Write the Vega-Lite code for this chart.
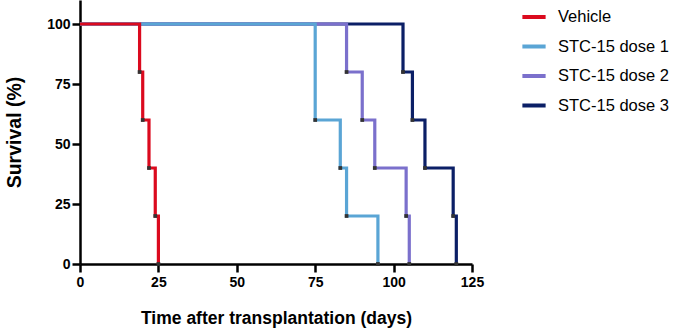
{
  "$schema": "https://vega.github.io/schema/vega-lite/v6.json",
  "width": 392,
  "height": 264,
  "autosize": {"type": "none"},
  "padding": {"left": 80, "top": 0, "right": 201, "bottom": 69},
  "background": "white",
  "config": {
    "view": {"stroke": null},
    "font": "Liberation Sans",
    "axis": {
      "domainColor": "black", "domainWidth": 2.5, "tickColor": "black", "tickWidth": 2.5, "tickSize": 8,
      "labelFont": "Liberation Sans", "labelFontWeight": "bold", "labelFontSize": 14, "labelColor": "black",
      "titleFont": "Liberation Sans", "titleFontWeight": "bold", "titleColor": "black",
      "grid": false, "labelFlush": false
    }
  },
  "data": {"values": [
    {"group": "STC-15 dose 3", "day": 0, "survival": 100},
    {"group": "STC-15 dose 3", "day": 103, "survival": 80},
    {"group": "STC-15 dose 3", "day": 106, "survival": 60},
    {"group": "STC-15 dose 3", "day": 110, "survival": 40},
    {"group": "STC-15 dose 3", "day": 119, "survival": 20},
    {"group": "STC-15 dose 3", "day": 120, "survival": 0},
    {"group": "STC-15 dose 2", "day": 0, "survival": 100},
    {"group": "STC-15 dose 2", "day": 85, "survival": 80},
    {"group": "STC-15 dose 2", "day": 90, "survival": 60},
    {"group": "STC-15 dose 2", "day": 94, "survival": 40},
    {"group": "STC-15 dose 2", "day": 104, "survival": 20},
    {"group": "STC-15 dose 2", "day": 105, "survival": 0},
    {"group": "STC-15 dose 1", "day": 0, "survival": 100},
    {"group": "STC-15 dose 1", "day": 75, "survival": 60},
    {"group": "STC-15 dose 1", "day": 83, "survival": 40},
    {"group": "STC-15 dose 1", "day": 85, "survival": 20},
    {"group": "STC-15 dose 1", "day": 95, "survival": 0},
    {"group": "Vehicle", "day": 0, "survival": 100},
    {"group": "Vehicle", "day": 19, "survival": 80},
    {"group": "Vehicle", "day": 20, "survival": 60},
    {"group": "Vehicle", "day": 22, "survival": 40},
    {"group": "Vehicle", "day": 24, "survival": 20},
    {"group": "Vehicle", "day": 25, "survival": 0}
  ]},
  "encoding": {
    "x": {"field": "day", "type": "quantitative",
      "scale": {"domain": [0, 125], "nice": false, "zero": true},
      "axis": {"values": [0, 25, 50, 75, 100, 125], "title": "Time after transplantation (days)", "titleFontSize": 17.5, "titlePadding": 20, "labelPadding": 3}},
    "y": {"field": "survival", "type": "quantitative",
      "scale": {"domain": [0, 110], "nice": false},
      "axis": {"values": [0, 25, 50, 75, 100], "title": "Survival (%)", "titleFontSize": 19.5, "titlePadding": 22, "labelPadding": 2}}
  },
  "layer": [
    {
      "mark": {"type": "line", "interpolate": "step-after", "strokeWidth": 3.2},
      "encoding": {
        "color": {"field": "group", "type": "nominal",
          "scale": {"domain": ["Vehicle", "STC-15 dose 1", "STC-15 dose 2", "STC-15 dose 3"],
                    "range": ["#db0a1e", "#5aa5d5", "#7b70cc", "#0b1f66"]},
          "legend": {"title": null, "orient": "none", "legendX": 440, "legendY": 3,
            "symbolType": "stroke", "symbolSize": 540, "symbolStrokeWidth": 4,
            "labelFont": "Liberation Sans", "labelFontSize": 16.5, "labelColor": "black",
            "labelOffset": 10, "rowPadding": 6.5, "symbolOpacity": 1}}
      }
    },
    {
      "transform": [{"filter": "datum.day > 0"}],
      "mark": {"type": "square", "filled": true, "size": 14, "color": "#333333", "opacity": 1}
    }
  ]
}
